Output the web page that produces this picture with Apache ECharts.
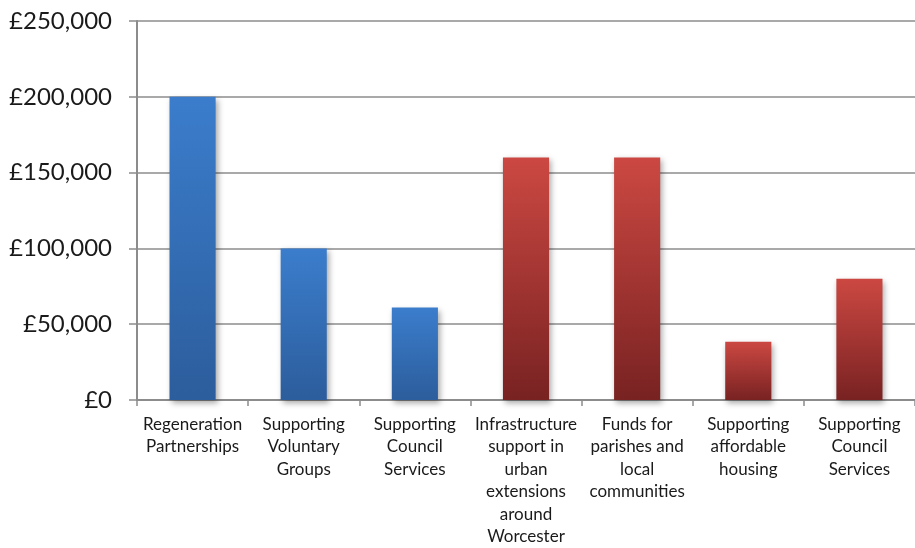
<!DOCTYPE html>
<html>
<head>
<meta charset="utf-8">
<script src="https://cdn.jsdelivr.net/npm/echarts@6/dist/echarts.min.js"></script>
<style>
  html, body { margin: 0; padding: 0; background: #ffffff; }
  #chart { width: 915px; height: 548px; }
</style>
</head>
<body>
<div id="chart"></div>
<script>
// Funding allocations by category
const categories = [
  'Regeneration\nPartnerships',
  'Supporting\nVoluntary\nGroups',
  'Supporting\nCouncil\nServices',
  'Infrastructure\nsupport in\nurban\nextensions\naround\nWorcester',
  'Funds for\nparishes and\nlocal\ncommunities',
  'Supporting\naffordable\nhousing',
  'Supporting\nCouncil\nServices'
];
const amounts = [200000, 100000, 61000, 160000, 160000, 38500, 80000];
// which colour group each bar belongs to
const groups = ['blue', 'blue', 'blue', 'red', 'red', 'red', 'red'];
const yTicks = { min: 0, max: 250000, interval: 50000 };

const fills = {
  blue: new echarts.graphic.LinearGradient(0, 0, 0, 1, [
    { offset: 0, color: '#3b7dcc' },
    { offset: 1, color: '#2c5d9c' }
  ]),
  red: new echarts.graphic.LinearGradient(0, 0, 0, 1, [
    { offset: 0, color: '#cc4842' },
    { offset: 1, color: '#782222' }
  ])
};

const fontFamily = 'Lato, Open Sans, sans-serif';

const chart = echarts.init(document.getElementById('chart'));
chart.setOption({
  animation: false,
  grid: { left: 137, right: 0, top: 21, bottom: 147 },
  xAxis: {
    type: 'category',
    data: categories,
    axisLine: { show: true, lineStyle: { color: '#8c8c8c', width: 2 } },
    axisTick: { show: true, length: 6, lineStyle: { color: '#8c8c8c', width: 1.5 } },
    axisLabel: {
      interval: 0,
      color: '#1a1a1a',
      fontFamily: fontFamily,
      fontSize: 17,
      lineHeight: 22.5,
      margin: 13
    }
  },
  yAxis: {
    type: 'value',
    min: yTicks.min,
    max: yTicks.max,
    interval: yTicks.interval,
    axisLine: { show: true, lineStyle: { color: '#8c8c8c', width: 2 } },
    axisTick: { show: true, length: 8, lineStyle: { color: '#8c8c8c', width: 1.5 } },
    splitLine: { show: true, lineStyle: { color: '#8c8c8c', width: 1.5 } },
    axisLabel: {
      color: '#1a1a1a',
      fontFamily: fontFamily,
      fontSize: 24,
      margin: 25,
      formatter: v => '£' + v.toLocaleString('en-GB')
    }
  },
  series: [{
    type: 'bar',
    barWidth: '41.5%',
    data: amounts.map((v, i) => ({
      value: v,
      itemStyle: { color: fills[groups[i]] }
    })),
    itemStyle: {
      shadowColor: 'rgba(0,0,0,0.35)',
      shadowBlur: 6,
      shadowOffsetX: 2,
      shadowOffsetY: 3
    }
  }]
});
</script>
</body>
</html>
